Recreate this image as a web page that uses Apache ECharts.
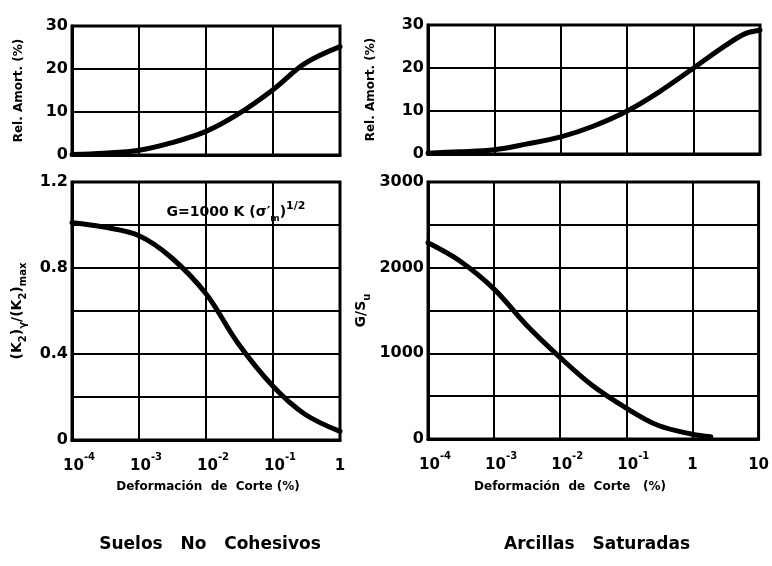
<!DOCTYPE html>
<html>
<head>
<meta charset="utf-8">
<script src="https://cdn.jsdelivr.net/npm/echarts@6/dist/echarts.min.js"></script>
<style>
html,body{margin:0;padding:0;background:#fff;}
#chart{width:772px;height:566px;}
</style>
</head>
<body>
<div id="chart"></div>
<script>
// ---- Data ----
// Suelos No Cohesivos: damping ratio vs shear strain
const sandDampStrain = [1e-4, 3e-4, 1e-3, 3e-3, 1e-2, 3e-2, 1e-1, 3e-1, 1];
const sandDamp       = [0.1, 0.4, 1.1, 2.8, 5.5, 9.5, 15.2, 21.3, 25.2];
// Suelos No Cohesivos: (K2)γ/(K2)max vs shear strain
const sandModStrain  = [1e-4, 3e-4, 1e-3, 3e-3, 1e-2, 3e-2, 1e-1, 3e-1, 1];
const sandMod        = [1.01, 0.99, 0.95, 0.85, 0.68, 0.45, 0.25, 0.12, 0.04];
// Arcillas Saturadas: damping ratio vs shear strain
const clayDampStrain = [1e-4, 3e-4, 1e-3, 3e-3, 1e-2, 3e-2, 1e-1, 3e-1, 1, 3, 6, 10];
const clayDamp       = [0.2, 0.5, 1.0, 2.3, 4.0, 6.4, 10, 14.4, 20, 25.2, 28, 28.8];
// Arcillas Saturadas: G/Su vs shear strain
const clayModStrain  = [1e-4, 3e-4, 1e-3, 3e-3, 1e-2, 3e-2, 1e-1, 3e-1, 1, 1.9];
const clayMod        = [2290, 2080, 1750, 1340, 950, 630, 360, 160, 55, 25];

// Tick labels
const xTickExp = ['-4', '-3', '-2', '-1', '', ''];   // exponent for 1e-4 ... 10
const xTickBase = ['10', '10', '10', '10', '1', '10'];
const dampTickLabels = ['0', '10', '20', '30'];
const kTickLabels = ['0', '0.4', '0.8', '1.2'];
const gTickLabels = ['0', '1000', '2000', '3000'];

// Text
const titleLeft = 'Suelos   No   Cohesivos';
const titleRight = 'Arcillas   Saturadas';
const xNameLeft = 'Deformación  de  Corte (%)';
const xNameRight = 'Deformación  de  Corte   (%)';
const dampName = 'Rel. Amort. (%)';

const FONT = 'DejaVu Sans';
const pair = (xs, ys) => xs.map((x, i) => [x, ys[i]]);

function xAxis(gridIndex, max) {
  return {
    type: 'log', logBase: 10, gridIndex, min: 1e-4, max,
    axisLine: { show: true, lineStyle: { color: '#000', width: 3 } },
    axisTick: { show: false },
    splitLine: { show: true, lineStyle: { color: '#000', width: 2 } },
    axisLabel: {
      show: gridIndex === 1 || gridIndex === 3,
      margin: 12,
      formatter: v => {
        const e = Math.round(Math.log10(v));
        const idx = e + 4;
        return xTickExp[idx] ? `{g|}{b|${xTickBase[idx]}}{s|${xTickExp[idx]}}` : `{b|${xTickBase[idx]}}`;
      },
      rich: {
        g: { width: 14 },
        b: { fontFamily: FONT, fontWeight: 'bold', fontSize: 15, color: '#000', lineHeight: 22, verticalAlign: 'bottom' },
        s: { fontFamily: FONT, fontWeight: 'bold', fontSize: 10, color: '#000', lineHeight: 22, verticalAlign: 'top' }
      }
    }
  };
}

function yAxis(gridIndex, max, interval, labelStep, labels, name, nameGap, rich) {
  return {
    type: 'value', gridIndex, min: 0, max, interval,
    axisLine: { show: true, lineStyle: { color: '#000', width: 3 } },
    axisTick: { show: false },
    splitLine: { show: true, lineStyle: { color: '#000', width: 2 } },
    axisLabel: {
      margin: 4,
      fontFamily: FONT, fontWeight: 'bold', fontSize: 16, color: '#000',
      formatter: v => {
        const k = v / labelStep;
        if (Math.abs(k - Math.round(k)) > 1e-6) return '';
        return labels[Math.round(k)] || '';
      }
    },
    name, nameLocation: 'middle', nameGap, nameRotate: 90,
    nameTextStyle: Object.assign({ fontFamily: FONT, fontWeight: 'bold', fontSize: 12, color: '#000' }, rich ? { rich } : {})
  };
}

const subRich = {
  n: { fontFamily: FONT, fontWeight: 'bold', fontSize: 14, color: '#000', lineHeight: 22, verticalAlign: 'middle' },
  sub: { fontFamily: FONT, fontWeight: 'bold', fontSize: 10, color: '#000', lineHeight: 22, verticalAlign: 'bottom' }
};

function line(idx, data) {
  return {
    type: 'line', xAxisIndex: idx, yAxisIndex: idx, data,
    smooth: 0.35, showSymbol: false, symbol: 'none',
    lineStyle: { color: '#000', width: 5, cap: 'round' },
    z: 5
  };
}

const gridStyle = { show: true, borderColor: '#000', borderWidth: 3, containLabel: false };

const textStyle = (x, y, text, size) => ({
  type: 'text',
  style: { x, y, text, fontFamily: FONT, fontWeight: 'bold', fontSize: size, fill: '#000', align: 'center', verticalAlign: 'middle' }
});

const option = {
  backgroundColor: '#fff',
  animation: false,
  grid: [
    Object.assign({ left: 72, top: 26, width: 268, height: 129 }, gridStyle),
    Object.assign({ left: 72, top: 182, width: 268, height: 258 }, gridStyle),
    Object.assign({ left: 428, top: 25, width: 332, height: 129 }, gridStyle),
    Object.assign({ left: 428, top: 182, width: 332, height: 257 }, gridStyle)
  ],
  xAxis: [xAxis(0, 1), xAxis(1, 1), xAxis(2, 10), xAxis(3, 10)],
  yAxis: [
    yAxis(0, 30, 10, 10, dampTickLabels, dampName, 47),
    yAxis(1, 1.2, 0.2, 0.4, kTickLabels, '{n|(K}{sub|2}{n|)}{sub|γ}{n|/(K}{sub|2}{n|)}{sub|max}', 44, subRich),
    yAxis(2, 30, 10, 10, dampTickLabels, dampName, 51),
    yAxis(3, 3000, 500, 1000, gTickLabels, '{n|G/S}{sub|u}', 56, subRich)
  ],
  series: [
    line(0, pair(sandDampStrain, sandDamp)),
    line(1, pair(sandModStrain, sandMod)),
    line(2, pair(clayDampStrain, clayDamp)),
    line(3, pair(clayModStrain, clayMod))
  ],
  graphic: [
    textStyle(208, 487, xNameLeft, 12),
    textStyle(570, 487, xNameRight, 12),
    textStyle(210, 545, titleLeft, 17),
    textStyle(597, 545, titleRight, 17),
    { type: 'text', style: {
        x: 236, y: 212, align: 'center', verticalAlign: 'middle',
        text: '{n|G=1000 K (σ′}{sub|m}{n|)}{sup|1/2}',
        rich: {
          n: { fontFamily: FONT, fontWeight: 'bold', fontSize: 14, fill: '#000', lineHeight: 22, verticalAlign: 'middle' },
          sub: { fontFamily: FONT, fontWeight: 'bold', fontSize: 9, fill: '#000', lineHeight: 22, verticalAlign: 'bottom' },
          sup: { fontFamily: FONT, fontWeight: 'bold', fontSize: 11, fill: '#000', lineHeight: 22, verticalAlign: 'top' }
        }
      } }
  ]
};

const chart = echarts.init(document.getElementById('chart'), null, { renderer: 'canvas' });
chart.setOption(option);
</script>
</body>
</html>
